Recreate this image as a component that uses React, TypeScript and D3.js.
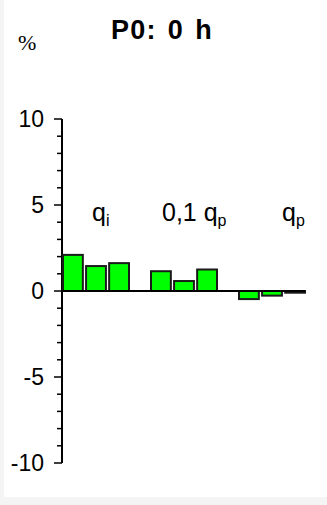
import React from "react";
import * as d3 from "d3";

const groups = ["qi", "0,1 qp", "qp"];
const groupLabels = [
  { main: "q", sub: "i", pre: "" },
  { main: "q", sub: "p", pre: "0,1 " },
  { main: "q", sub: "p", pre: "" },
];
const seriesKeys = ["s1", "s2", "s3"];
const values = [
  [2.1, 1.45, 1.62],
  [1.15, 0.58, 1.25],
  [-0.47, -0.27, -0.1],
];
const yTicks = [-10, -5, 0, 5, 10];
const title = "P0: 0 h";
const unit = "%";

const W = 327;
const H = 505;

export default function App() {
  const y = d3.scaleLinear().domain([-10, 10]).range([463, 119]);
  const x0 = d3.scaleBand<string>().domain(groups).range([63, 305]).paddingInner(0.25);
  const x1 = d3
    .scaleBand<string>()
    .domain(seriesKeys)
    .range([0, x0.bandwidth()])
    .paddingInner(0.14);
  const minor = d3.range(-10, 10.01, 1);
  const labelOffsets = [29, 11, 43];
  const axisX = 62;

  return (
    <div style={{ position: "fixed", left: 0, top: 0 }}>
      <svg width={W} height={H} style={{ display: "block" }}>
        <rect x={0} y={0} width={W} height={H} fill="#f4f4f4" />
        <rect x={4} y={0} width={W - 4} height={497} fill="#ffffff" />
        <text
          x={111}
          y={39}
          fontFamily="Liberation Sans, Arial, sans-serif"
          fontWeight="bold"
          fontSize={27}
          letterSpacing={1.2}
          wordSpacing={2.5}
          fill="#000"
        >
          {title}
        </text>
        <text x={18} y={50} fontFamily="Liberation Serif, Times New Roman, serif" fontSize={22} fill="#000">
          {unit}
        </text>
        {/* axis */}
        <line x1={axisX} x2={axisX} y1={y(10)} y2={y(-10)} stroke="#000" strokeWidth={2} />
        {minor.map((v) => (
          <line
            key={"m" + v}
            x1={v % 5 === 0 ? 54 : 57}
            x2={axisX}
            y1={y(v)}
            y2={y(v)}
            stroke="#000"
            strokeWidth={1.5}
          />
        ))}
        {yTicks.map((v) => (
          <text
            key={"t" + v}
            x={44}
            y={y(v)}
            dy="0.35em"
            textAnchor="end"
            fontFamily="Liberation Sans, Arial, sans-serif"
            fontSize={23}
            fill="#000"
          >
            {v}
          </text>
        ))}
        {/* bars */}
        {groups.map((g, gi) =>
          seriesKeys.map((s, si) => {
            const v = values[gi][si];
            const top = y(Math.max(0, v));
            const bot = y(Math.min(0, v));
            return (
              <rect
                key={g + s}
                x={(x0(g) as number) + (x1(s) as number)}
                y={top}
                width={x1.bandwidth()}
                height={Math.max(bot - top, 1)}
                fill="#00ff00"
                stroke="#1a1a1a"
                strokeWidth={2}
              />
            );
          })
        )}
        <line x1={axisX} x2={305} y1={y(0)} y2={y(0)} stroke="#000" strokeWidth={2} />
        {/* group labels */}
        {groups.map((g, gi) => {
          const lab = groupLabels[gi];
          return (
            <text
              key={"l" + g}
              x={(x0(g) as number) + labelOffsets[gi]}
              y={221}
              fontFamily="Liberation Sans, Arial, sans-serif"
              fontSize={25}
              fill="#000"
            >
              {lab.pre}
              {lab.main}
              <tspan fontSize={16} dy={5}>
                {lab.sub}
              </tspan>
            </text>
          );
        })}
      </svg>
    </div>
  );
}
